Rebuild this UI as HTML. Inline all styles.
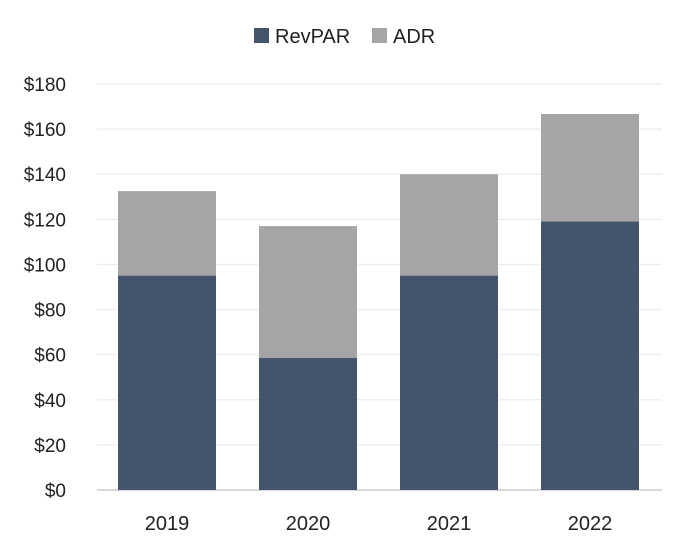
<!DOCTYPE html>
<html><head><meta charset="utf-8"><style>
body{margin:0;background:#fff;font-family:"Liberation Sans",sans-serif;}
svg{display:block}
</style></head><body>
<svg width="684" height="554" id="c">
<g>
<rect x="254" y="28" width="15" height="15" fill="#44546a"/>
<text x="275" y="43" font-size="20" fill="#222">RevPAR</text>
<rect x="372" y="28" width="15" height="15" fill="#a5a5a5"/>
<text x="393" y="43" font-size="20" fill="#222">ADR</text>
</g>
</svg>
<script>
const categories=["2019","2020","2021","2022"];
const revpar=[95,58.5,95,119];
const adr=[132.5,117,140,166.7];
const ticks=[0,20,40,60,80,100,120,140,160,180];
const svg=document.getElementById('c');
const NS="http://www.w3.org/2000/svg";
const y0=490,y1=84,maxV=180;
const y=v=>y0-(v/maxV)*(y0-y1);
const x=i=>118+i*141;
const bw=98;
function mk(t,a){const e=document.createElementNS(NS,t);for(const k in a)e.setAttribute(k,a[k]);svg.appendChild(e);return e;}
ticks.forEach(t=>{
  const g=mk('line',{x1:97,x2:662,y1:y(t),y2:y(t),stroke:t===0?'#d9d9d9':'#efefef','stroke-width':t===0?2:1.5});
  
  
  const l=mk('text',{x:66,y:y(t)+7,'font-size':19,'text-anchor':'end',fill:'#222'});
  l.textContent='$'+t;
  
  
});
categories.forEach((c,i)=>{
  const a=mk('rect',{x:x(i),y:y(adr[i]),width:bw,height:y0-y(adr[i]),fill:'#a5a5a5'});
  
  
  const r=mk('rect',{x:x(i),y:y(revpar[i]),width:bw,height:y0-y(revpar[i]),fill:'#44546a'});
  
  
  const t=mk('text',{x:x(i)+bw/2,y:530,'font-size':20,'text-anchor':'middle',fill:'#222'});
  t.textContent=c;
  
  
});
</script>
</body></html>
